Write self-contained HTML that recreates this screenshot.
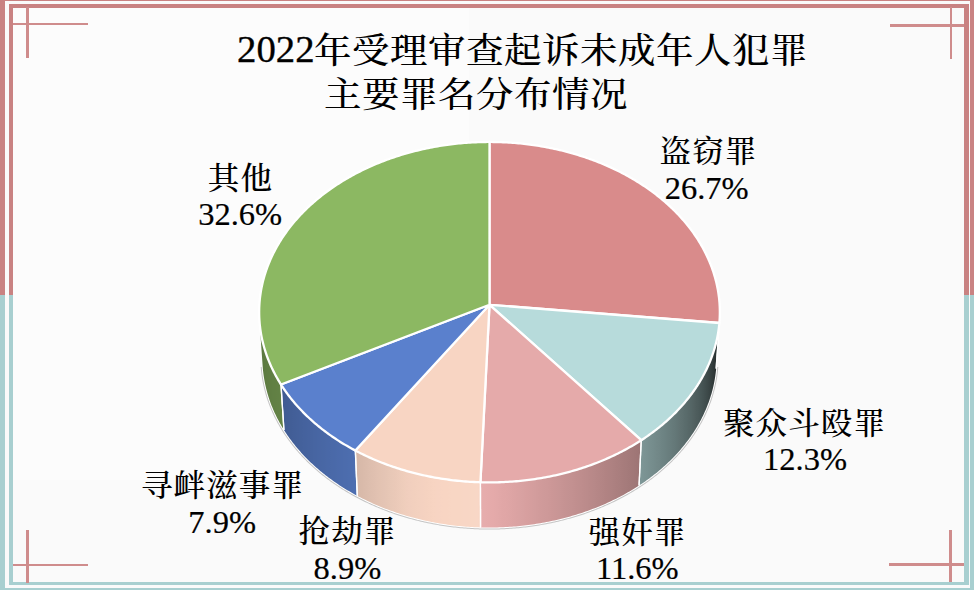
<!DOCTYPE html>
<html><head><meta charset="utf-8">
<style>
html,body{margin:0;padding:0;}
body{width:974px;height:590px;overflow:hidden;position:relative;background:#fafafa;}
.b{position:absolute;}
.pk{background:#c98282;}
.tl{background:#a8cfd0;}
.ch{position:absolute;background:#cf8c8c;}
.t{position:absolute;white-space:nowrap;color:#000;font-family:"Liberation Serif","Noto Serif CJK SC",serif;line-height:1;}
.cj{font-weight:500;}
.num{font-family:"Liberation Serif",serif;font-weight:400;-webkit-text-stroke:0.35px #000;}
.l1{position:absolute;white-space:nowrap;color:#000;font-family:"Liberation Serif","Noto Serif CJK SC",serif;font-weight:500;font-size:31px;letter-spacing:1px;line-height:1;transform:translateX(-50%) scaleX(1.02);padding-left:1px;}
.l2{position:absolute;white-space:nowrap;color:#000;font-family:"Liberation Serif",serif;font-size:32.5px;line-height:1;transform:translateX(-50%);-webkit-text-stroke:0.2px #000;}
</style></head><body>
<div style="position:absolute;left:13px;top:8px;width:456px;height:472px;background:#fcfcfc"></div>
<!-- outer bands -->
<div class="b pk" style="left:0;top:0;width:974px;height:1px"></div>
<div class="b pk" style="left:0;top:0;width:5px;height:295px"></div>
<div class="b tl" style="left:0;top:295px;width:5px;height:295px"></div>
<div class="b pk" style="left:970px;top:0;width:4px;height:295px"></div>
<div class="b tl" style="left:970px;top:295px;width:4px;height:295px"></div>
<div class="b tl" style="left:0;top:588px;width:974px;height:2px"></div>
<!-- inner bands -->
<div class="b pk" style="left:8.5px;top:3.5px;width:960px;height:4px"></div>
<div class="b pk" style="left:8.5px;top:3.5px;width:4.5px;height:291.5px"></div>
<div class="b tl" style="left:8.5px;top:295px;width:4.5px;height:290px"></div>
<div class="b pk" style="left:964px;top:3.5px;width:4.5px;height:291.5px"></div>
<div class="b tl" style="left:964px;top:295px;width:4.5px;height:290px"></div>
<div class="b tl" style="left:8.5px;top:582.3px;width:960px;height:2.7px"></div>
<!-- corner crosshairs -->
<div class="ch" style="left:26.2px;top:7px;width:2.5px;height:51px"></div>
<div class="ch" style="left:13px;top:22.6px;width:75px;height:2.5px"></div>
<div class="ch" style="left:949.6px;top:7px;width:2.5px;height:52px"></div>
<div class="ch" style="left:890px;top:24px;width:74px;height:2.5px"></div>
<div class="ch" style="left:26.2px;top:530px;width:2.5px;height:53px"></div>
<div class="ch" style="left:13px;top:563.8px;width:75px;height:2.5px"></div>
<div class="ch" style="left:949.2px;top:529.6px;width:2.5px;height:52.5px"></div>
<div class="ch" style="left:889px;top:563px;width:75px;height:2.5px"></div>
<svg width="974" height="590" viewBox="0 0 974 590" style="position:absolute;left:0;top:0">
<defs><linearGradient id="g0" gradientUnits="userSpaceOnUse" x1="719.37" y1="0" x2="719.52" y2="0"><stop offset="0.0000" stop-color="#1a1111"/><stop offset="0.2675" stop-color="#1a1111"/><stop offset="0.5234" stop-color="#1a1111"/><stop offset="0.7675" stop-color="#1a1111"/><stop offset="1.0000" stop-color="#1a1010"/><stop offset="1.0000" stop-color="#1a1010"/></linearGradient><linearGradient id="g1" gradientUnits="userSpaceOnUse" x1="641.25" y1="0" x2="719.37" y2="0"><stop offset="0.0000" stop-color="#7d9696"/><stop offset="0.0399" stop-color="#7b9393"/><stop offset="0.0792" stop-color="#799191"/><stop offset="0.1178" stop-color="#778e8e"/><stop offset="0.1557" stop-color="#758c8c"/><stop offset="0.1928" stop-color="#738989"/><stop offset="0.2293" stop-color="#718787"/><stop offset="0.2650" stop-color="#6e8484"/><stop offset="0.3000" stop-color="#6c8282"/><stop offset="0.3342" stop-color="#6a7f7f"/><stop offset="0.3677" stop-color="#687d7d"/><stop offset="0.4004" stop-color="#667a7a"/><stop offset="0.4323" stop-color="#647878"/><stop offset="0.4634" stop-color="#627575"/><stop offset="0.4937" stop-color="#607272"/><stop offset="0.5232" stop-color="#5e7070"/><stop offset="0.5519" stop-color="#5b6d6d"/><stop offset="0.5798" stop-color="#596b6b"/><stop offset="0.6068" stop-color="#576868"/><stop offset="0.6330" stop-color="#556666"/><stop offset="0.6583" stop-color="#536363"/><stop offset="0.6828" stop-color="#516060"/><stop offset="0.7064" stop-color="#4e5d5d"/><stop offset="0.7292" stop-color="#4c5b5b"/><stop offset="0.7511" stop-color="#495858"/><stop offset="0.7721" stop-color="#475555"/><stop offset="0.7922" stop-color="#445252"/><stop offset="0.8115" stop-color="#424f4f"/><stop offset="0.8298" stop-color="#3f4c4c"/><stop offset="0.8473" stop-color="#3d4949"/><stop offset="0.8639" stop-color="#3a4646"/><stop offset="0.8795" stop-color="#384343"/><stop offset="0.8943" stop-color="#364040"/><stop offset="0.9081" stop-color="#333d3d"/><stop offset="0.9210" stop-color="#313a3a"/><stop offset="0.9331" stop-color="#2e3737"/><stop offset="0.9442" stop-color="#2c3434"/><stop offset="0.9544" stop-color="#293131"/><stop offset="0.9636" stop-color="#262e2e"/><stop offset="0.9720" stop-color="#242b2b"/><stop offset="0.9794" stop-color="#212727"/><stop offset="0.9860" stop-color="#1e2424"/><stop offset="0.9916" stop-color="#1c2121"/><stop offset="0.9962" stop-color="#191e1e"/><stop offset="1.0000" stop-color="#161b1b"/><stop offset="1.0000" stop-color="#161b1b"/></linearGradient><linearGradient id="g2" gradientUnits="userSpaceOnUse" x1="480.43" y1="0" x2="641.25" y2="0"><stop offset="0.0000" stop-color="#e6adad"/><stop offset="0.0263" stop-color="#e6acac"/><stop offset="0.0525" stop-color="#e5abab"/><stop offset="0.0788" stop-color="#e5aaaa"/><stop offset="0.1051" stop-color="#e3a9a9"/><stop offset="0.1313" stop-color="#e1a7a7"/><stop offset="0.1575" stop-color="#e0a6a6"/><stop offset="0.1837" stop-color="#dea5a5"/><stop offset="0.2098" stop-color="#dca3a3"/><stop offset="0.2359" stop-color="#daa2a2"/><stop offset="0.2619" stop-color="#d8a1a1"/><stop offset="0.2879" stop-color="#d79f9f"/><stop offset="0.3138" stop-color="#d59e9e"/><stop offset="0.3395" stop-color="#d39d9d"/><stop offset="0.3652" stop-color="#d19b9b"/><stop offset="0.3908" stop-color="#cf9a9a"/><stop offset="0.4162" stop-color="#ce9999"/><stop offset="0.4416" stop-color="#cc9797"/><stop offset="0.4668" stop-color="#ca9696"/><stop offset="0.4918" stop-color="#c89595"/><stop offset="0.5167" stop-color="#c69393"/><stop offset="0.5415" stop-color="#c49292"/><stop offset="0.5660" stop-color="#c39191"/><stop offset="0.5904" stop-color="#c18f8f"/><stop offset="0.6146" stop-color="#bf8e8e"/><stop offset="0.6386" stop-color="#bd8c8c"/><stop offset="0.6625" stop-color="#bb8b8b"/><stop offset="0.6861" stop-color="#b98989"/><stop offset="0.7094" stop-color="#b78888"/><stop offset="0.7326" stop-color="#b58686"/><stop offset="0.7555" stop-color="#b38585"/><stop offset="0.7782" stop-color="#b18383"/><stop offset="0.8006" stop-color="#af8282"/><stop offset="0.8228" stop-color="#ad8181"/><stop offset="0.8447" stop-color="#ab7f7f"/><stop offset="0.8664" stop-color="#a97e7e"/><stop offset="0.8877" stop-color="#a77c7c"/><stop offset="0.9088" stop-color="#a57b7b"/><stop offset="0.9296" stop-color="#a37979"/><stop offset="0.9501" stop-color="#a17878"/><stop offset="0.9703" stop-color="#9f7676"/><stop offset="0.9902" stop-color="#9d7575"/><stop offset="1.0000" stop-color="#9c7474"/></linearGradient><linearGradient id="g3" gradientUnits="userSpaceOnUse" x1="355.34" y1="0" x2="480.43" y2="0"><stop offset="0.0000" stop-color="#d5b7a7"/><stop offset="0.0273" stop-color="#d7b9a9"/><stop offset="0.0549" stop-color="#d9baaa"/><stop offset="0.0829" stop-color="#dbbcac"/><stop offset="0.1112" stop-color="#ddbeae"/><stop offset="0.1399" stop-color="#dfbfaf"/><stop offset="0.1688" stop-color="#e1c1b1"/><stop offset="0.1981" stop-color="#e3c3b2"/><stop offset="0.2277" stop-color="#e4c4b4"/><stop offset="0.2576" stop-color="#e6c6b5"/><stop offset="0.2877" stop-color="#e8c8b7"/><stop offset="0.3181" stop-color="#eac9b8"/><stop offset="0.3488" stop-color="#eccbba"/><stop offset="0.3797" stop-color="#eecdbb"/><stop offset="0.4109" stop-color="#f0cebd"/><stop offset="0.4423" stop-color="#f1cfbe"/><stop offset="0.4739" stop-color="#f2d0be"/><stop offset="0.5057" stop-color="#f3d1bf"/><stop offset="0.5377" stop-color="#f4d1c0"/><stop offset="0.5699" stop-color="#f5d2c0"/><stop offset="0.6022" stop-color="#f6d3c1"/><stop offset="0.6347" stop-color="#f7d4c2"/><stop offset="0.6674" stop-color="#f7d4c3"/><stop offset="0.7002" stop-color="#f8d5c3"/><stop offset="0.7332" stop-color="#f8d5c3"/><stop offset="0.7662" stop-color="#f8d6c4"/><stop offset="0.7994" stop-color="#f8d6c4"/><stop offset="0.8327" stop-color="#f8d6c4"/><stop offset="0.8660" stop-color="#f8d6c5"/><stop offset="0.8994" stop-color="#f8d6c5"/><stop offset="0.9329" stop-color="#f8d7c5"/><stop offset="0.9664" stop-color="#f8d7c6"/><stop offset="1.0000" stop-color="#f8d6c5"/><stop offset="1.0000" stop-color="#f8d6c5"/></linearGradient><linearGradient id="g4" gradientUnits="userSpaceOnUse" x1="280.97" y1="0" x2="355.34" y2="0"><stop offset="0.0000" stop-color="#405b91"/><stop offset="0.0120" stop-color="#405b91"/><stop offset="0.0242" stop-color="#405b92"/><stop offset="0.0367" stop-color="#405b93"/><stop offset="0.0494" stop-color="#415c93"/><stop offset="0.0623" stop-color="#415c94"/><stop offset="0.0755" stop-color="#415d94"/><stop offset="0.0889" stop-color="#415d95"/><stop offset="0.1025" stop-color="#425d95"/><stop offset="0.1163" stop-color="#425e96"/><stop offset="0.1304" stop-color="#425e96"/><stop offset="0.1446" stop-color="#425e97"/><stop offset="0.1592" stop-color="#435f98"/><stop offset="0.1739" stop-color="#435f98"/><stop offset="0.1888" stop-color="#435f99"/><stop offset="0.2040" stop-color="#436099"/><stop offset="0.2194" stop-color="#44609a"/><stop offset="0.2350" stop-color="#44609a"/><stop offset="0.2508" stop-color="#44619b"/><stop offset="0.2669" stop-color="#44619b"/><stop offset="0.2831" stop-color="#44619c"/><stop offset="0.2996" stop-color="#45629d"/><stop offset="0.3163" stop-color="#45629d"/><stop offset="0.3332" stop-color="#45629e"/><stop offset="0.3503" stop-color="#45639e"/><stop offset="0.3676" stop-color="#46639f"/><stop offset="0.3851" stop-color="#46639f"/><stop offset="0.4029" stop-color="#4664a0"/><stop offset="0.4208" stop-color="#4664a0"/><stop offset="0.4389" stop-color="#4765a1"/><stop offset="0.4573" stop-color="#4765a2"/><stop offset="0.4758" stop-color="#4765a2"/><stop offset="0.4945" stop-color="#4766a3"/><stop offset="0.5135" stop-color="#4866a3"/><stop offset="0.5326" stop-color="#4866a4"/><stop offset="0.5519" stop-color="#4867a4"/><stop offset="0.5715" stop-color="#4867a5"/><stop offset="0.5912" stop-color="#4967a5"/><stop offset="0.6111" stop-color="#4968a6"/><stop offset="0.6312" stop-color="#4968a7"/><stop offset="0.6515" stop-color="#4968a7"/><stop offset="0.6719" stop-color="#4a69a8"/><stop offset="0.6926" stop-color="#4a69a8"/><stop offset="0.7134" stop-color="#4a69a9"/><stop offset="0.7344" stop-color="#4a6aa9"/><stop offset="0.7556" stop-color="#4b6aaa"/><stop offset="0.7770" stop-color="#4b6aab"/><stop offset="0.7985" stop-color="#4b6bab"/><stop offset="0.8202" stop-color="#4b6bac"/><stop offset="0.8421" stop-color="#4c6cac"/><stop offset="0.8642" stop-color="#4c6cad"/><stop offset="0.8864" stop-color="#4c6cad"/><stop offset="0.9088" stop-color="#4c6dae"/><stop offset="0.9314" stop-color="#4d6dae"/><stop offset="0.9541" stop-color="#4d6daf"/><stop offset="0.9770" stop-color="#4d6eb0"/><stop offset="1.0000" stop-color="#4d6eb0"/><stop offset="1.0000" stop-color="#4d6eb0"/></linearGradient><linearGradient id="g5" gradientUnits="userSpaceOnUse" x1="259.48" y1="0" x2="280.97" y2="0"><stop offset="0.0000" stop-color="#59753e"/><stop offset="0.0055" stop-color="#5a763f"/><stop offset="0.0118" stop-color="#5a763f"/><stop offset="0.0189" stop-color="#5a763f"/><stop offset="0.0269" stop-color="#5a773f"/><stop offset="0.0358" stop-color="#5a773f"/><stop offset="0.0455" stop-color="#5b773f"/><stop offset="0.0561" stop-color="#5b7740"/><stop offset="0.0675" stop-color="#5b7840"/><stop offset="0.0798" stop-color="#5b7840"/><stop offset="0.0929" stop-color="#5c7840"/><stop offset="0.1069" stop-color="#5c7940"/><stop offset="0.1217" stop-color="#5c7940"/><stop offset="0.1374" stop-color="#5c7941"/><stop offset="0.1539" stop-color="#5c7a41"/><stop offset="0.1713" stop-color="#5d7a41"/><stop offset="0.1896" stop-color="#5d7a41"/><stop offset="0.2086" stop-color="#5d7a41"/><stop offset="0.2286" stop-color="#5d7b41"/><stop offset="0.2494" stop-color="#5e7b42"/><stop offset="0.2710" stop-color="#5e7b42"/><stop offset="0.2935" stop-color="#5e7c42"/><stop offset="0.3168" stop-color="#5e7c42"/><stop offset="0.3410" stop-color="#5f7c42"/><stop offset="0.3660" stop-color="#5f7d42"/><stop offset="0.3919" stop-color="#5f7d42"/><stop offset="0.4186" stop-color="#5f7d43"/><stop offset="0.4461" stop-color="#5f7d43"/><stop offset="0.4745" stop-color="#607e43"/><stop offset="0.5037" stop-color="#607e43"/><stop offset="0.5338" stop-color="#607e43"/><stop offset="0.5647" stop-color="#607f43"/><stop offset="0.5964" stop-color="#617f44"/><stop offset="0.6290" stop-color="#617f44"/><stop offset="0.6624" stop-color="#618044"/><stop offset="0.6966" stop-color="#618044"/><stop offset="0.7317" stop-color="#628044"/><stop offset="0.7676" stop-color="#628044"/><stop offset="0.8042" stop-color="#628145"/><stop offset="0.8418" stop-color="#628145"/><stop offset="0.8801" stop-color="#628145"/><stop offset="0.9193" stop-color="#638245"/><stop offset="0.9592" stop-color="#638245"/><stop offset="1.0000" stop-color="#638245"/><stop offset="1.0000" stop-color="#638245"/></linearGradient></defs>
<path d="M716.29,366.79 L716.20,368.05 L716.09,369.31 L715.97,370.57 L715.84,371.82 L715.69,373.08 L715.53,374.33 L715.36,375.59 L715.18,376.84 L714.98,378.10 L714.77,379.35 L714.55,380.60 L714.32,381.86 L714.07,383.11 L713.81,384.36 L713.54,385.60 L713.25,386.85 L712.96,388.10 L712.65,389.34 L712.33,390.59 L711.99,391.83 L711.65,393.07 L711.29,394.31 L710.92,395.55 L710.53,396.78 L710.14,398.01 L709.73,399.25 L709.31,400.48 L708.87,401.70 L708.43,402.93 L707.97,404.15 L707.50,405.38 L707.01,406.59 L706.52,407.81 L706.01,409.03 L705.49,410.24 L704.96,411.45 L704.41,412.65 L703.85,413.86 L703.28,415.06 L702.70,416.26 L702.11,417.45 L701.50,418.64 L700.89,419.83 L700.25,421.02 L699.61,422.20 L698.96,423.38 L698.29,424.56 L697.61,425.73 L696.92,426.90 L696.22,428.06 L695.51,429.23 L694.78,430.38 L694.04,431.54 L693.29,432.69 L692.53,433.84 L691.76,434.98 L690.97,436.12 L690.17,437.25 L689.37,438.38 L688.55,439.51 L687.71,440.63 L686.87,441.75 L686.02,442.86 L685.15,443.97 L684.27,445.07 L683.38,446.17 L682.48,447.26 L681.57,448.35 L680.65,449.44 L679.71,450.52 L678.77,451.59 L677.81,452.66 L676.84,453.72 L675.87,454.78 L674.88,455.83 L673.88,456.88 L672.87,457.93 L671.84,458.96 L670.81,459.99 L669.77,461.02 L668.71,462.04 L667.65,463.05 L666.57,464.06 L665.49,465.07 L664.39,466.06 L663.28,467.05 L662.17,468.04 L661.04,469.02 L659.90,469.99 L658.76,470.96 L657.60,471.92 L656.43,472.87 L655.25,473.82 L654.07,474.76 L652.87,475.69 L651.66,476.62 L650.45,477.54 L649.22,478.45 L647.98,479.36 L646.74,480.26 L645.48,481.15 L644.22,482.04 L642.95,482.92 L641.66,483.79 L640.37,484.65 L639.07,485.51 L637.76,486.36 L636.44,487.20 L635.11,488.04 L633.78,488.87 L632.43,489.69 L631.08,490.50 L629.72,491.31 L628.35,492.11 L626.97,492.90 L625.58,493.68 L624.18,494.45 L622.78,495.22 L621.37,495.98 L619.95,496.73 L618.52,497.47 L617.09,498.21 L615.64,498.93 L614.19,499.65 L612.73,500.36 L611.27,501.06 L609.79,501.76 L608.31,502.44 L606.83,503.12 L605.33,503.79 L603.83,504.45 L602.32,505.10 L600.80,505.74 L599.28,506.38 L597.75,507.00 L596.21,507.62 L594.67,508.23 L593.12,508.83 L591.57,509.42 L590.01,510.00 L588.44,510.57 L586.86,511.14 L585.28,511.69 L583.70,512.24 L582.11,512.77 L580.51,513.30 L578.91,513.82 L577.30,514.33 L575.69,514.83 L574.07,515.32 L572.44,515.80 L570.81,516.27 L569.18,516.74 L567.54,517.19 L565.90,517.64 L564.25,518.07 L562.59,518.50 L560.94,518.91 L559.27,519.32 L557.61,519.71 L555.94,520.10 L554.26,520.48 L552.58,520.85 L550.90,521.21 L549.22,521.56 L547.53,521.89 L545.83,522.22 L544.13,522.54 L542.43,522.85 L540.73,523.15 L539.02,523.44 L537.31,523.72 L535.60,523.99 L533.88,524.26 L532.17,524.51 L530.44,524.75 L528.72,524.98 L527.00,525.20 L525.27,525.41 L523.54,525.61 L521.80,525.80 L520.07,525.98 L518.33,526.16 L516.59,526.32 L514.85,526.47 L513.11,526.61 L511.37,526.74 L509.62,526.86 L507.88,526.97 L506.13,527.07 L504.38,527.16 L502.63,527.24 L500.89,527.32 L499.13,527.38 L497.38,527.43 L495.63,527.47 L493.88,527.50 L492.13,527.52 L490.38,527.53 L488.62,527.53 L486.87,527.52 L485.12,527.50 L483.37,527.47 L481.62,527.43 L479.87,527.38 L478.11,527.32 L476.37,527.24 L474.62,527.16 L472.87,527.07 L471.12,526.97 L469.38,526.86 L467.63,526.74 L465.89,526.61 L464.15,526.47 L462.41,526.32 L460.67,526.16 L458.93,525.98 L457.20,525.80 L455.46,525.61 L453.73,525.41 L452.00,525.20 L450.28,524.98 L448.56,524.75 L446.83,524.51 L445.12,524.26 L443.40,523.99 L441.69,523.72 L439.98,523.44 L438.27,523.15 L436.57,522.85 L434.87,522.54 L433.17,522.22 L431.47,521.89 L429.78,521.56 L428.10,521.21 L426.42,520.85 L424.74,520.48 L423.06,520.10 L421.39,519.71 L419.73,519.32 L418.06,518.91 L416.41,518.50 L414.75,518.07 L413.10,517.64 L411.46,517.19 L409.82,516.74 L408.19,516.27 L406.56,515.80 L404.93,515.32 L403.31,514.83 L401.70,514.33 L400.09,513.82 L398.49,513.30 L396.89,512.77 L395.30,512.24 L393.72,511.69 L392.14,511.14 L390.56,510.57 L388.99,510.00 L387.43,509.42 L385.88,508.83 L384.33,508.23 L382.79,507.62 L381.25,507.00 L379.72,506.38 L378.20,505.74 L376.68,505.10 L375.17,504.45 L373.67,503.79 L372.17,503.12 L370.69,502.44 L369.21,501.76 L367.73,501.06 L366.27,500.36 L364.81,499.65 L363.36,498.93 L361.91,498.21 L360.48,497.47 L359.05,496.73 L357.63,495.98 L356.22,495.22 L354.82,494.45 L353.42,493.68 L352.03,492.90 L350.65,492.11 L349.28,491.31 L347.92,490.50 L346.57,489.69 L345.22,488.87 L343.89,488.04 L342.56,487.20 L341.24,486.36 L339.93,485.51 L338.63,484.65 L337.34,483.79 L336.05,482.92 L334.78,482.04 L333.52,481.15 L332.26,480.26 L331.02,479.36 L329.78,478.45 L328.55,477.54 L327.34,476.62 L326.13,475.69 L324.93,474.76 L323.75,473.82 L322.57,472.87 L321.40,471.92 L320.24,470.96 L319.10,469.99 L317.96,469.02 L316.83,468.04 L315.72,467.05 L314.61,466.06 L313.51,465.07 L312.43,464.06 L311.35,463.05 L310.29,462.04 L309.23,461.02 L308.19,459.99 L307.16,458.96 L306.13,457.93 L305.12,456.88 L304.12,455.83 L303.13,454.78 L302.16,453.72 L301.19,452.66 L300.23,451.59 L299.29,450.52 L298.35,449.44 L297.43,448.35 L296.52,447.26 L295.62,446.17 L294.73,445.07 L293.85,443.97 L292.98,442.86 L292.13,441.75 L291.29,440.63 L290.45,439.51 L289.63,438.38 L288.83,437.25 L288.03,436.12 L287.24,434.98 L286.47,433.84 L285.71,432.69 L284.96,431.54 L284.22,430.38 L283.49,429.23 L282.78,428.06 L282.08,426.90 L281.39,425.73 L280.71,424.56 L280.04,423.38 L279.39,422.20 L278.75,421.02 L278.11,419.83 L277.50,418.64 L276.89,417.45 L276.30,416.26 L275.72,415.06 L275.15,413.86 L274.59,412.65 L274.04,411.45 L273.51,410.24 L272.99,409.03 L272.48,407.81 L271.99,406.59 L271.50,405.38 L271.03,404.15 L270.57,402.93 L270.13,401.70 L269.69,400.48 L269.27,399.25 L268.86,398.01 L268.47,396.78 L268.08,395.55 L267.71,394.31 L267.35,393.07 L267.01,391.83 L266.67,390.59 L266.35,389.34 L266.04,388.10 L265.75,386.85 L265.46,385.60 L265.19,384.36 L264.93,383.11 L264.68,381.86 L264.45,380.60 L264.23,379.35 L264.02,378.10 L263.82,376.84 L263.64,375.59 L263.47,374.33 L263.31,373.08 L263.16,371.82 L263.03,370.57 L262.91,369.31 L262.80,368.05 L262.71,366.79" fill="none" stroke="#c4c4c4" stroke-width="4" stroke-linejoin="round"/>
<path d="M716.29,366.79 L716.20,368.05 L716.09,369.31 L715.97,370.57 L715.84,371.82 L715.69,373.08 L715.53,374.33 L715.36,375.59 L715.18,376.84 L714.98,378.10 L714.77,379.35 L714.55,380.60 L714.32,381.86 L714.07,383.11 L713.81,384.36 L713.54,385.60 L713.25,386.85 L712.96,388.10 L712.65,389.34 L712.33,390.59 L711.99,391.83 L711.65,393.07 L711.29,394.31 L710.92,395.55 L710.53,396.78 L710.14,398.01 L709.73,399.25 L709.31,400.48 L708.87,401.70 L708.43,402.93 L707.97,404.15 L707.50,405.38 L707.01,406.59 L706.52,407.81 L706.01,409.03 L705.49,410.24 L704.96,411.45 L704.41,412.65 L703.85,413.86 L703.28,415.06 L702.70,416.26 L702.11,417.45 L701.50,418.64 L700.89,419.83 L700.25,421.02 L699.61,422.20 L698.96,423.38 L698.29,424.56 L697.61,425.73 L696.92,426.90 L696.22,428.06 L695.51,429.23 L694.78,430.38 L694.04,431.54 L693.29,432.69 L692.53,433.84 L691.76,434.98 L690.97,436.12 L690.17,437.25 L689.37,438.38 L688.55,439.51 L687.71,440.63 L686.87,441.75 L686.02,442.86 L685.15,443.97 L684.27,445.07 L683.38,446.17 L682.48,447.26 L681.57,448.35 L680.65,449.44 L679.71,450.52 L678.77,451.59 L677.81,452.66 L676.84,453.72 L675.87,454.78 L674.88,455.83 L673.88,456.88 L672.87,457.93 L671.84,458.96 L670.81,459.99 L669.77,461.02 L668.71,462.04 L667.65,463.05 L666.57,464.06 L665.49,465.07 L664.39,466.06 L663.28,467.05 L662.17,468.04 L661.04,469.02 L659.90,469.99 L658.76,470.96 L657.60,471.92 L656.43,472.87 L655.25,473.82 L654.07,474.76 L652.87,475.69 L651.66,476.62 L650.45,477.54 L649.22,478.45 L647.98,479.36 L646.74,480.26 L645.48,481.15 L644.22,482.04 L642.95,482.92 L641.66,483.79 L640.37,484.65 L639.07,485.51 L637.76,486.36 L636.44,487.20 L635.11,488.04 L633.78,488.87 L632.43,489.69 L631.08,490.50 L629.72,491.31 L628.35,492.11 L626.97,492.90 L625.58,493.68 L624.18,494.45 L622.78,495.22 L621.37,495.98 L619.95,496.73 L618.52,497.47 L617.09,498.21 L615.64,498.93 L614.19,499.65 L612.73,500.36 L611.27,501.06 L609.79,501.76 L608.31,502.44 L606.83,503.12 L605.33,503.79 L603.83,504.45 L602.32,505.10 L600.80,505.74 L599.28,506.38 L597.75,507.00 L596.21,507.62 L594.67,508.23 L593.12,508.83 L591.57,509.42 L590.01,510.00 L588.44,510.57 L586.86,511.14 L585.28,511.69 L583.70,512.24 L582.11,512.77 L580.51,513.30 L578.91,513.82 L577.30,514.33 L575.69,514.83 L574.07,515.32 L572.44,515.80 L570.81,516.27 L569.18,516.74 L567.54,517.19 L565.90,517.64 L564.25,518.07 L562.59,518.50 L560.94,518.91 L559.27,519.32 L557.61,519.71 L555.94,520.10 L554.26,520.48 L552.58,520.85 L550.90,521.21 L549.22,521.56 L547.53,521.89 L545.83,522.22 L544.13,522.54 L542.43,522.85 L540.73,523.15 L539.02,523.44 L537.31,523.72 L535.60,523.99 L533.88,524.26 L532.17,524.51 L530.44,524.75 L528.72,524.98 L527.00,525.20 L525.27,525.41 L523.54,525.61 L521.80,525.80 L520.07,525.98 L518.33,526.16 L516.59,526.32 L514.85,526.47 L513.11,526.61 L511.37,526.74 L509.62,526.86 L507.88,526.97 L506.13,527.07 L504.38,527.16 L502.63,527.24 L500.89,527.32 L499.13,527.38 L497.38,527.43 L495.63,527.47 L493.88,527.50 L492.13,527.52 L490.38,527.53 L488.62,527.53 L486.87,527.52 L485.12,527.50 L483.37,527.47 L481.62,527.43 L479.87,527.38 L478.11,527.32 L476.37,527.24 L474.62,527.16 L472.87,527.07 L471.12,526.97 L469.38,526.86 L467.63,526.74 L465.89,526.61 L464.15,526.47 L462.41,526.32 L460.67,526.16 L458.93,525.98 L457.20,525.80 L455.46,525.61 L453.73,525.41 L452.00,525.20 L450.28,524.98 L448.56,524.75 L446.83,524.51 L445.12,524.26 L443.40,523.99 L441.69,523.72 L439.98,523.44 L438.27,523.15 L436.57,522.85 L434.87,522.54 L433.17,522.22 L431.47,521.89 L429.78,521.56 L428.10,521.21 L426.42,520.85 L424.74,520.48 L423.06,520.10 L421.39,519.71 L419.73,519.32 L418.06,518.91 L416.41,518.50 L414.75,518.07 L413.10,517.64 L411.46,517.19 L409.82,516.74 L408.19,516.27 L406.56,515.80 L404.93,515.32 L403.31,514.83 L401.70,514.33 L400.09,513.82 L398.49,513.30 L396.89,512.77 L395.30,512.24 L393.72,511.69 L392.14,511.14 L390.56,510.57 L388.99,510.00 L387.43,509.42 L385.88,508.83 L384.33,508.23 L382.79,507.62 L381.25,507.00 L379.72,506.38 L378.20,505.74 L376.68,505.10 L375.17,504.45 L373.67,503.79 L372.17,503.12 L370.69,502.44 L369.21,501.76 L367.73,501.06 L366.27,500.36 L364.81,499.65 L363.36,498.93 L361.91,498.21 L360.48,497.47 L359.05,496.73 L357.63,495.98 L356.22,495.22 L354.82,494.45 L353.42,493.68 L352.03,492.90 L350.65,492.11 L349.28,491.31 L347.92,490.50 L346.57,489.69 L345.22,488.87 L343.89,488.04 L342.56,487.20 L341.24,486.36 L339.93,485.51 L338.63,484.65 L337.34,483.79 L336.05,482.92 L334.78,482.04 L333.52,481.15 L332.26,480.26 L331.02,479.36 L329.78,478.45 L328.55,477.54 L327.34,476.62 L326.13,475.69 L324.93,474.76 L323.75,473.82 L322.57,472.87 L321.40,471.92 L320.24,470.96 L319.10,469.99 L317.96,469.02 L316.83,468.04 L315.72,467.05 L314.61,466.06 L313.51,465.07 L312.43,464.06 L311.35,463.05 L310.29,462.04 L309.23,461.02 L308.19,459.99 L307.16,458.96 L306.13,457.93 L305.12,456.88 L304.12,455.83 L303.13,454.78 L302.16,453.72 L301.19,452.66 L300.23,451.59 L299.29,450.52 L298.35,449.44 L297.43,448.35 L296.52,447.26 L295.62,446.17 L294.73,445.07 L293.85,443.97 L292.98,442.86 L292.13,441.75 L291.29,440.63 L290.45,439.51 L289.63,438.38 L288.83,437.25 L288.03,436.12 L287.24,434.98 L286.47,433.84 L285.71,432.69 L284.96,431.54 L284.22,430.38 L283.49,429.23 L282.78,428.06 L282.08,426.90 L281.39,425.73 L280.71,424.56 L280.04,423.38 L279.39,422.20 L278.75,421.02 L278.11,419.83 L277.50,418.64 L276.89,417.45 L276.30,416.26 L275.72,415.06 L275.15,413.86 L274.59,412.65 L274.04,411.45 L273.51,410.24 L272.99,409.03 L272.48,407.81 L271.99,406.59 L271.50,405.38 L271.03,404.15 L270.57,402.93 L270.13,401.70 L269.69,400.48 L269.27,399.25 L268.86,398.01 L268.47,396.78 L268.08,395.55 L267.71,394.31 L267.35,393.07 L267.01,391.83 L266.67,390.59 L266.35,389.34 L266.04,388.10 L265.75,386.85 L265.46,385.60 L265.19,384.36 L264.93,383.11 L264.68,381.86 L264.45,380.60 L264.23,379.35 L264.02,378.10 L263.82,376.84 L263.64,375.59 L263.47,374.33 L263.31,373.08 L263.16,371.82 L263.03,370.57 L262.91,369.31 L262.80,368.05 L262.71,366.79" fill="none" stroke="#ffffff" stroke-width="2" stroke-linejoin="round" stroke-linecap="round"/>
<path d="M719.52,321.15 L719.49,321.61 L719.45,322.07 L719.41,322.54 L719.37,323.00 L716.15,368.64 L716.19,368.17 L716.23,367.71 L716.26,367.25 L716.29,366.79 Z" fill="url(#g0)"/>
<path d="M719.37,323.00 L719.24,324.49 L719.08,325.99 L718.91,327.49 L718.71,328.98 L718.50,330.48 L718.28,331.97 L718.03,333.47 L717.77,334.96 L717.49,336.45 L717.19,337.94 L716.87,339.43 L716.53,340.91 L716.18,342.40 L715.81,343.88 L715.42,345.36 L715.01,346.84 L714.59,348.32 L714.15,349.79 L713.68,351.26 L713.21,352.73 L712.71,354.20 L712.20,355.66 L711.66,357.13 L711.11,358.58 L710.55,360.04 L709.96,361.49 L709.36,362.94 L708.74,364.38 L708.10,365.82 L707.44,367.26 L706.77,368.70 L706.08,370.13 L705.37,371.55 L704.65,372.97 L703.90,374.39 L703.14,375.80 L702.37,377.21 L701.57,378.61 L700.76,380.01 L699.93,381.41 L699.08,382.79 L698.22,384.18 L697.34,385.56 L696.44,386.93 L695.53,388.30 L694.59,389.66 L693.65,391.01 L692.68,392.36 L691.70,393.71 L690.70,395.04 L689.69,396.38 L688.66,397.70 L687.61,399.02 L686.54,400.33 L685.46,401.64 L684.37,402.94 L683.25,404.23 L682.13,405.51 L680.98,406.79 L679.82,408.06 L678.64,409.32 L677.45,410.58 L676.24,411.83 L675.02,413.07 L673.78,414.30 L672.53,415.52 L671.26,416.74 L669.98,417.95 L668.68,419.15 L667.36,420.34 L666.03,421.52 L664.69,422.69 L663.33,423.86 L661.96,425.02 L660.57,426.16 L659.16,427.30 L657.75,428.43 L656.32,429.55 L654.87,430.67 L653.41,431.77 L651.94,432.86 L650.45,433.94 L648.95,435.02 L647.44,436.08 L645.91,437.13 L644.37,438.18 L642.82,439.21 L641.25,440.23 L639.06,485.52 L640.61,484.50 L642.14,483.47 L643.66,482.43 L645.16,481.38 L646.65,480.32 L648.13,479.25 L649.60,478.17 L651.05,477.08 L652.49,475.98 L653.92,474.87 L655.33,473.76 L656.72,472.63 L658.11,471.50 L659.47,470.35 L660.83,469.20 L662.17,468.04 L663.49,466.87 L664.81,465.69 L666.10,464.50 L667.38,463.30 L668.65,462.10 L669.90,460.89 L671.14,459.67 L672.36,458.44 L673.57,457.20 L674.76,455.96 L675.93,454.71 L677.09,453.45 L678.24,452.18 L679.37,450.91 L680.48,449.63 L681.58,448.34 L682.66,447.05 L683.73,445.75 L684.78,444.44 L685.81,443.12 L686.83,441.80 L687.83,440.48 L688.81,439.14 L689.78,437.80 L690.73,436.46 L691.67,435.11 L692.59,433.75 L693.49,432.39 L694.38,431.02 L695.25,429.64 L696.10,428.26 L696.93,426.88 L697.75,425.49 L698.55,424.10 L699.34,422.70 L700.11,421.29 L700.86,419.88 L701.59,418.47 L702.31,417.05 L703.01,415.63 L703.69,414.21 L704.35,412.78 L705.00,411.34 L705.63,409.91 L706.24,408.47 L706.84,407.02 L707.42,405.57 L707.98,404.12 L708.52,402.67 L709.05,401.21 L709.56,399.75 L710.05,398.29 L710.52,396.82 L710.97,395.36 L711.41,393.89 L711.83,392.41 L712.23,390.94 L712.62,389.46 L712.99,387.98 L713.34,386.50 L713.67,385.02 L713.98,383.54 L714.28,382.05 L714.56,380.56 L714.82,379.08 L715.06,377.59 L715.29,376.10 L715.49,374.61 L715.69,373.11 L715.86,371.62 L716.01,370.13 L716.15,368.64 Z" fill="url(#g1)"/>
<path d="M641.25,440.23 L639.67,441.25 L638.08,442.25 L636.48,443.24 L634.86,444.22 L633.23,445.19 L631.59,446.15 L629.93,447.10 L628.27,448.04 L626.59,448.96 L624.90,449.88 L623.20,450.79 L621.49,451.68 L619.76,452.56 L618.03,453.43 L616.28,454.29 L614.53,455.14 L612.76,455.97 L610.98,456.80 L609.19,457.61 L607.39,458.41 L605.58,459.20 L603.77,459.98 L601.94,460.74 L600.10,461.49 L598.25,462.23 L596.39,462.96 L594.52,463.67 L592.65,464.37 L590.76,465.06 L588.87,465.74 L586.97,466.41 L585.06,467.06 L583.14,467.70 L581.21,468.32 L579.28,468.93 L577.33,469.53 L575.38,470.12 L573.43,470.70 L571.46,471.26 L569.49,471.80 L567.51,472.34 L565.52,472.86 L563.53,473.37 L561.53,473.86 L559.53,474.34 L557.52,474.81 L555.50,475.26 L553.47,475.70 L551.45,476.13 L549.41,476.54 L547.37,476.94 L545.33,477.32 L543.28,477.69 L541.23,478.05 L539.17,478.39 L537.10,478.72 L535.04,479.04 L532.97,479.34 L530.89,479.63 L528.81,479.90 L526.73,480.16 L524.65,480.40 L522.56,480.63 L520.47,480.85 L518.37,481.05 L516.28,481.24 L514.18,481.42 L512.08,481.58 L509.98,481.72 L507.87,481.85 L505.77,481.97 L503.66,482.07 L501.55,482.16 L499.44,482.24 L497.33,482.30 L495.22,482.34 L493.11,482.38 L490.99,482.39 L488.88,482.40 L486.77,482.38 L484.66,482.36 L482.55,482.32 L480.43,482.26 L480.57,527.40 L482.65,527.45 L484.73,527.49 L486.81,527.52 L488.89,527.53 L490.97,527.53 L493.05,527.51 L495.13,527.48 L497.21,527.43 L499.29,527.37 L501.37,527.30 L503.45,527.21 L505.53,527.11 L507.60,526.99 L509.68,526.86 L511.75,526.71 L513.82,526.55 L515.89,526.38 L517.95,526.19 L520.02,525.99 L522.08,525.77 L524.13,525.54 L526.19,525.30 L528.24,525.04 L530.29,524.77 L532.33,524.48 L534.37,524.18 L536.41,523.87 L538.44,523.54 L540.47,523.20 L542.50,522.84 L544.52,522.47 L546.53,522.09 L548.54,521.69 L550.54,521.28 L552.54,520.86 L554.54,520.42 L556.53,519.97 L558.51,519.50 L560.48,519.02 L562.45,518.53 L564.42,518.03 L566.37,517.51 L568.33,516.97 L570.27,516.43 L572.21,515.87 L574.14,515.30 L576.06,514.71 L577.97,514.12 L579.88,513.51 L581.78,512.88 L583.67,512.25 L585.55,511.60 L587.43,510.94 L589.29,510.26 L591.15,509.57 L593.00,508.87 L594.84,508.16 L596.67,507.44 L598.49,506.70 L600.30,505.95 L602.11,505.19 L603.90,504.42 L605.68,503.63 L607.46,502.83 L609.22,502.02 L610.97,501.20 L612.72,500.37 L614.45,499.53 L616.17,498.67 L617.88,497.80 L619.58,496.92 L621.27,496.03 L622.94,495.13 L624.61,494.22 L626.26,493.29 L627.90,492.36 L629.53,491.41 L631.15,490.46 L632.76,489.49 L634.35,488.51 L635.94,487.52 L637.51,486.53 L639.06,485.52 Z" fill="url(#g2)"/>
<path d="M480.43,482.26 L478.33,482.20 L476.24,482.11 L474.14,482.02 L472.04,481.91 L469.95,481.78 L467.85,481.64 L465.76,481.49 L463.67,481.32 L461.59,481.14 L459.50,480.95 L457.42,480.74 L455.34,480.51 L453.27,480.28 L451.19,480.03 L449.12,479.76 L447.06,479.48 L444.99,479.19 L442.94,478.88 L440.88,478.56 L438.83,478.23 L436.78,477.88 L434.74,477.52 L432.71,477.14 L430.67,476.75 L428.65,476.35 L426.63,475.93 L424.61,475.50 L422.60,475.06 L420.60,474.60 L418.60,474.13 L416.60,473.65 L414.62,473.15 L412.64,472.64 L410.66,472.12 L408.70,471.58 L406.74,471.03 L404.79,470.47 L402.84,469.89 L400.90,469.30 L398.97,468.70 L397.05,468.08 L395.14,467.46 L393.23,466.82 L391.33,466.16 L389.44,465.50 L387.56,464.82 L385.69,464.13 L383.83,463.43 L381.97,462.71 L380.13,461.98 L378.29,461.24 L376.46,460.49 L374.65,459.73 L372.84,458.95 L371.04,458.16 L369.26,457.36 L367.48,456.55 L365.71,455.73 L363.96,454.89 L362.21,454.05 L360.48,453.19 L358.76,452.32 L357.04,451.44 L355.34,450.54 L357.28,495.79 L358.96,496.68 L360.65,497.56 L362.35,498.43 L364.06,499.28 L365.78,500.12 L367.51,500.96 L369.25,501.78 L371.00,502.59 L372.76,503.38 L374.53,504.17 L376.31,504.94 L378.10,505.70 L379.90,506.45 L381.71,507.19 L383.53,507.92 L385.36,508.63 L387.20,509.33 L389.04,510.02 L390.90,510.69 L392.76,511.36 L394.63,512.01 L396.51,512.64 L398.39,513.27 L400.29,513.88 L402.19,514.48 L404.10,515.07 L406.02,515.64 L407.94,516.20 L409.87,516.75 L411.81,517.29 L413.76,517.81 L415.71,518.32 L417.67,518.81 L419.63,519.29 L421.60,519.76 L423.57,520.22 L425.56,520.66 L427.54,521.09 L429.53,521.50 L431.53,521.91 L433.53,522.29 L435.54,522.67 L437.55,523.03 L439.57,523.38 L441.59,523.71 L443.61,524.03 L445.64,524.33 L447.68,524.63 L449.71,524.90 L451.75,525.17 L453.79,525.42 L455.84,525.65 L457.89,525.88 L459.94,526.08 L461.99,526.28 L464.05,526.46 L466.11,526.63 L468.17,526.78 L470.23,526.92 L472.30,527.04 L474.36,527.15 L476.43,527.25 L478.50,527.33 L480.57,527.40 Z" fill="url(#g3)"/>
<path d="M355.34,450.54 L353.63,449.63 L351.93,448.70 L350.24,447.76 L348.56,446.81 L346.89,445.85 L345.24,444.88 L343.60,443.90 L341.97,442.90 L340.36,441.90 L338.75,440.88 L337.17,439.85 L335.59,438.82 L334.03,437.77 L332.48,436.71 L330.94,435.65 L329.42,434.57 L327.91,433.48 L326.42,432.39 L324.94,431.28 L323.47,430.16 L322.02,429.04 L320.58,427.90 L319.16,426.76 L317.75,425.60 L316.36,424.44 L314.98,423.27 L313.61,422.09 L312.26,420.90 L310.93,419.70 L309.61,418.49 L308.31,417.27 L307.02,416.05 L305.75,414.82 L304.49,413.58 L303.25,412.33 L302.03,411.07 L300.82,409.81 L299.62,408.54 L298.45,407.26 L297.28,405.97 L296.14,404.68 L295.01,403.38 L293.90,402.07 L292.80,400.75 L291.72,399.43 L290.66,398.10 L289.62,396.77 L288.59,395.43 L287.57,394.08 L286.58,392.72 L285.60,391.36 L284.64,389.99 L283.70,388.62 L282.77,387.24 L281.86,385.86 L280.97,384.47 L283.94,429.93 L284.82,431.32 L285.71,432.70 L286.63,434.07 L287.56,435.44 L288.51,436.80 L289.47,438.16 L290.46,439.51 L291.46,440.86 L292.47,442.19 L293.50,443.52 L294.55,444.85 L295.62,446.17 L296.70,447.48 L297.79,448.78 L298.91,450.08 L300.04,451.37 L301.18,452.65 L302.34,453.93 L303.52,455.19 L304.71,456.45 L305.92,457.71 L307.14,458.95 L308.38,460.19 L309.64,461.42 L310.91,462.64 L312.19,463.85 L313.50,465.05 L314.81,466.24 L316.14,467.43 L317.49,468.61 L318.85,469.78 L320.22,470.94 L321.61,472.09 L323.01,473.23 L324.43,474.36 L325.86,475.48 L327.31,476.59 L328.77,477.70 L330.24,478.79 L331.73,479.87 L333.23,480.95 L334.74,482.01 L336.27,483.06 L337.81,484.11 L339.36,485.14 L340.93,486.16 L342.51,487.17 L344.10,488.18 L345.71,489.17 L347.33,490.15 L348.96,491.11 L350.60,492.07 L352.25,493.02 L353.92,493.96 L355.60,494.88 L357.28,495.79 Z" fill="url(#g4)"/>
<path d="M280.97,384.47 L280.09,383.07 L279.23,381.67 L278.39,380.26 L277.57,378.85 L276.76,377.44 L275.97,376.01 L275.20,374.59 L274.45,373.16 L273.71,371.72 L273.00,370.28 L272.30,368.84 L271.61,367.39 L270.95,365.94 L270.30,364.48 L269.68,363.02 L269.07,361.56 L268.47,360.09 L267.90,358.62 L267.34,357.15 L266.81,355.67 L266.29,354.19 L265.79,352.71 L265.30,351.23 L264.84,349.74 L264.39,348.25 L263.96,346.76 L263.55,345.26 L263.16,343.77 L262.79,342.27 L262.43,340.77 L262.10,339.26 L261.78,337.76 L261.48,336.26 L261.19,334.75 L260.93,333.24 L260.69,331.73 L260.46,330.22 L260.25,328.71 L260.06,327.20 L259.89,325.69 L259.73,324.18 L259.60,322.67 L259.48,321.15 L262.71,366.79 L262.82,368.30 L262.96,369.81 L263.11,371.32 L263.28,372.83 L263.47,374.34 L263.68,375.84 L263.90,377.35 L264.14,378.85 L264.41,380.36 L264.69,381.86 L264.98,383.36 L265.30,384.86 L265.63,386.36 L265.98,387.85 L266.35,389.35 L266.74,390.84 L267.15,392.33 L267.57,393.82 L268.01,395.30 L268.47,396.79 L268.95,398.27 L269.44,399.75 L269.96,401.22 L270.49,402.69 L271.04,404.16 L271.60,405.63 L272.19,407.09 L272.79,408.55 L273.41,410.00 L274.05,411.46 L274.70,412.90 L275.38,414.35 L276.07,415.79 L276.78,417.22 L277.50,418.65 L278.25,420.08 L279.01,421.50 L279.78,422.92 L280.58,424.33 L281.39,425.74 L282.22,427.14 L283.07,428.54 L283.94,429.93 Z" fill="url(#g5)"/>
<line x1="719.37" y1="323.00" x2="716.15" y2="368.64" stroke="#fff" stroke-width="1.3"/>
<line x1="719.37" y1="323.00" x2="716.15" y2="368.64" stroke="#fff" stroke-width="1.3"/>
<line x1="641.25" y1="440.23" x2="639.06" y2="485.52" stroke="#fff" stroke-width="1.3"/>
<line x1="641.25" y1="440.23" x2="639.06" y2="485.52" stroke="#fff" stroke-width="1.3"/>
<line x1="480.43" y1="482.26" x2="480.57" y2="527.40" stroke="#fff" stroke-width="1.3"/>
<line x1="480.43" y1="482.26" x2="480.57" y2="527.40" stroke="#fff" stroke-width="1.3"/>
<line x1="355.34" y1="450.54" x2="357.28" y2="495.79" stroke="#fff" stroke-width="1.3"/>
<line x1="355.34" y1="450.54" x2="357.28" y2="495.79" stroke="#fff" stroke-width="1.3"/>
<line x1="280.97" y1="384.47" x2="283.94" y2="429.93" stroke="#fff" stroke-width="1.3"/>
<line x1="280.97" y1="384.47" x2="283.94" y2="429.93" stroke="#fff" stroke-width="1.3"/>
<path d="M489.50,304.80 L489.50,141.96 L491.43,141.96 L493.35,141.98 L495.28,142.01 L497.21,142.05 L499.13,142.10 L501.06,142.17 L502.98,142.25 L504.91,142.34 L506.83,142.44 L508.75,142.55 L510.67,142.68 L512.59,142.81 L514.51,142.96 L516.42,143.12 L518.34,143.29 L520.25,143.48 L522.16,143.67 L524.06,143.88 L525.97,144.10 L527.87,144.33 L529.77,144.58 L531.67,144.83 L533.56,145.10 L535.46,145.38 L537.35,145.67 L539.23,145.97 L541.11,146.28 L542.99,146.61 L544.87,146.95 L546.74,147.29 L548.61,147.65 L550.47,148.03 L552.33,148.41 L554.18,148.80 L556.03,149.21 L557.88,149.63 L559.72,150.06 L561.56,150.50 L563.39,150.95 L565.22,151.42 L567.04,151.89 L568.86,152.38 L570.67,152.87 L572.48,153.38 L574.28,153.90 L576.07,154.44 L577.86,154.98 L579.64,155.53 L581.42,156.10 L583.19,156.67 L584.95,157.26 L586.71,157.86 L588.46,158.47 L590.21,159.09 L591.95,159.72 L593.68,160.36 L595.40,161.01 L597.12,161.68 L598.83,162.35 L600.53,163.04 L602.22,163.73 L603.91,164.44 L605.59,165.15 L607.26,165.88 L608.92,166.62 L610.58,167.37 L612.22,168.13 L613.86,168.90 L615.49,169.68 L617.11,170.47 L618.72,171.27 L620.33,172.08 L621.92,172.90 L623.51,173.73 L625.08,174.57 L626.65,175.42 L628.21,176.28 L629.75,177.15 L631.29,178.03 L632.82,178.92 L634.34,179.82 L635.85,180.73 L637.35,181.65 L638.83,182.58 L640.31,183.51 L641.78,184.46 L643.24,185.42 L644.68,186.38 L646.12,187.36 L647.54,188.34 L648.96,189.34 L650.36,190.34 L651.75,191.35 L653.13,192.37 L654.50,193.40 L655.86,194.44 L657.20,195.49 L658.54,196.55 L659.86,197.61 L661.17,198.68 L662.47,199.77 L663.76,200.86 L665.03,201.95 L666.29,203.06 L667.54,204.18 L668.78,205.30 L670.00,206.43 L671.21,207.57 L672.41,208.72 L673.60,209.87 L674.77,211.03 L675.93,212.20 L677.08,213.38 L678.21,214.57 L679.33,215.76 L680.43,216.96 L681.53,218.17 L682.61,219.38 L683.67,220.61 L684.72,221.84 L685.76,223.07 L686.78,224.32 L687.79,225.56 L688.79,226.82 L689.77,228.09 L690.74,229.35 L691.69,230.63 L692.63,231.91 L693.55,233.20 L694.46,234.50 L695.35,235.80 L696.23,237.11 L697.10,238.42 L697.94,239.74 L698.78,241.07 L699.60,242.40 L700.40,243.73 L701.19,245.08 L701.96,246.42 L702.72,247.78 L703.46,249.13 L704.19,250.50 L704.90,251.87 L705.59,253.24 L706.27,254.62 L706.93,256.00 L707.58,257.39 L708.21,258.78 L708.83,260.18 L709.43,261.58 L710.01,262.98 L710.58,264.39 L711.13,265.80 L711.66,267.22 L712.18,268.64 L712.68,270.07 L713.17,271.50 L713.63,272.93 L714.09,274.37 L714.52,275.81 L714.94,277.25 L715.34,278.69 L715.72,280.14 L716.09,281.59 L716.44,283.05 L716.78,284.51 L717.09,285.97 L717.39,287.43 L717.67,288.89 L717.94,290.36 L718.19,291.83 L718.42,293.30 L718.63,294.77 L718.83,296.25 L719.01,297.73 L719.17,299.20 L719.31,300.68 L719.44,302.17 L719.55,303.65 L719.64,305.13 L719.72,306.62 L719.77,308.11 L719.81,309.59 L719.84,311.08 L719.84,312.57 L719.83,314.06 L719.79,315.55 L719.75,317.04 L719.68,318.53 L719.60,320.02 L719.49,321.51 L719.37,323.00 Z" fill="#D98B8B" stroke="#fff" stroke-width="2.3" stroke-linejoin="round"/>
<path d="M489.50,304.80 L719.37,323.00 L719.24,324.49 L719.08,325.99 L718.91,327.49 L718.71,328.98 L718.50,330.48 L718.28,331.97 L718.03,333.47 L717.77,334.96 L717.49,336.45 L717.19,337.94 L716.87,339.43 L716.53,340.91 L716.18,342.40 L715.81,343.88 L715.42,345.36 L715.01,346.84 L714.59,348.32 L714.15,349.79 L713.68,351.26 L713.21,352.73 L712.71,354.20 L712.20,355.66 L711.66,357.13 L711.11,358.58 L710.55,360.04 L709.96,361.49 L709.36,362.94 L708.74,364.38 L708.10,365.82 L707.44,367.26 L706.77,368.70 L706.08,370.13 L705.37,371.55 L704.65,372.97 L703.90,374.39 L703.14,375.80 L702.37,377.21 L701.57,378.61 L700.76,380.01 L699.93,381.41 L699.08,382.79 L698.22,384.18 L697.34,385.56 L696.44,386.93 L695.53,388.30 L694.59,389.66 L693.65,391.01 L692.68,392.36 L691.70,393.71 L690.70,395.04 L689.69,396.38 L688.66,397.70 L687.61,399.02 L686.54,400.33 L685.46,401.64 L684.37,402.94 L683.25,404.23 L682.13,405.51 L680.98,406.79 L679.82,408.06 L678.64,409.32 L677.45,410.58 L676.24,411.83 L675.02,413.07 L673.78,414.30 L672.53,415.52 L671.26,416.74 L669.98,417.95 L668.68,419.15 L667.36,420.34 L666.03,421.52 L664.69,422.69 L663.33,423.86 L661.96,425.02 L660.57,426.16 L659.16,427.30 L657.75,428.43 L656.32,429.55 L654.87,430.67 L653.41,431.77 L651.94,432.86 L650.45,433.94 L648.95,435.02 L647.44,436.08 L645.91,437.13 L644.37,438.18 L642.82,439.21 L641.25,440.23 Z" fill="#B7DBDB" stroke="#fff" stroke-width="2.3" stroke-linejoin="round"/>
<path d="M489.50,304.80 L641.25,440.23 L639.67,441.25 L638.08,442.25 L636.48,443.24 L634.86,444.22 L633.23,445.19 L631.59,446.15 L629.93,447.10 L628.27,448.04 L626.59,448.96 L624.90,449.88 L623.20,450.79 L621.49,451.68 L619.76,452.56 L618.03,453.43 L616.28,454.29 L614.53,455.14 L612.76,455.97 L610.98,456.80 L609.19,457.61 L607.39,458.41 L605.58,459.20 L603.77,459.98 L601.94,460.74 L600.10,461.49 L598.25,462.23 L596.39,462.96 L594.52,463.67 L592.65,464.37 L590.76,465.06 L588.87,465.74 L586.97,466.41 L585.06,467.06 L583.14,467.70 L581.21,468.32 L579.28,468.93 L577.33,469.53 L575.38,470.12 L573.43,470.70 L571.46,471.26 L569.49,471.80 L567.51,472.34 L565.52,472.86 L563.53,473.37 L561.53,473.86 L559.53,474.34 L557.52,474.81 L555.50,475.26 L553.47,475.70 L551.45,476.13 L549.41,476.54 L547.37,476.94 L545.33,477.32 L543.28,477.69 L541.23,478.05 L539.17,478.39 L537.10,478.72 L535.04,479.04 L532.97,479.34 L530.89,479.63 L528.81,479.90 L526.73,480.16 L524.65,480.40 L522.56,480.63 L520.47,480.85 L518.37,481.05 L516.28,481.24 L514.18,481.42 L512.08,481.58 L509.98,481.72 L507.87,481.85 L505.77,481.97 L503.66,482.07 L501.55,482.16 L499.44,482.24 L497.33,482.30 L495.22,482.34 L493.11,482.38 L490.99,482.39 L488.88,482.40 L486.77,482.38 L484.66,482.36 L482.55,482.32 L480.43,482.26 Z" fill="#E5AAAA" stroke="#fff" stroke-width="2.3" stroke-linejoin="round"/>
<path d="M489.50,304.80 L480.43,482.26 L478.33,482.20 L476.24,482.11 L474.14,482.02 L472.04,481.91 L469.95,481.78 L467.85,481.64 L465.76,481.49 L463.67,481.32 L461.59,481.14 L459.50,480.95 L457.42,480.74 L455.34,480.51 L453.27,480.28 L451.19,480.03 L449.12,479.76 L447.06,479.48 L444.99,479.19 L442.94,478.88 L440.88,478.56 L438.83,478.23 L436.78,477.88 L434.74,477.52 L432.71,477.14 L430.67,476.75 L428.65,476.35 L426.63,475.93 L424.61,475.50 L422.60,475.06 L420.60,474.60 L418.60,474.13 L416.60,473.65 L414.62,473.15 L412.64,472.64 L410.66,472.12 L408.70,471.58 L406.74,471.03 L404.79,470.47 L402.84,469.89 L400.90,469.30 L398.97,468.70 L397.05,468.08 L395.14,467.46 L393.23,466.82 L391.33,466.16 L389.44,465.50 L387.56,464.82 L385.69,464.13 L383.83,463.43 L381.97,462.71 L380.13,461.98 L378.29,461.24 L376.46,460.49 L374.65,459.73 L372.84,458.95 L371.04,458.16 L369.26,457.36 L367.48,456.55 L365.71,455.73 L363.96,454.89 L362.21,454.05 L360.48,453.19 L358.76,452.32 L357.04,451.44 L355.34,450.54 Z" fill="#F8D5C3" stroke="#fff" stroke-width="2.3" stroke-linejoin="round"/>
<path d="M489.50,304.80 L355.34,450.54 L353.63,449.63 L351.93,448.70 L350.24,447.76 L348.56,446.81 L346.89,445.85 L345.24,444.88 L343.60,443.90 L341.97,442.90 L340.36,441.90 L338.75,440.88 L337.17,439.85 L335.59,438.82 L334.03,437.77 L332.48,436.71 L330.94,435.65 L329.42,434.57 L327.91,433.48 L326.42,432.39 L324.94,431.28 L323.47,430.16 L322.02,429.04 L320.58,427.90 L319.16,426.76 L317.75,425.60 L316.36,424.44 L314.98,423.27 L313.61,422.09 L312.26,420.90 L310.93,419.70 L309.61,418.49 L308.31,417.27 L307.02,416.05 L305.75,414.82 L304.49,413.58 L303.25,412.33 L302.03,411.07 L300.82,409.81 L299.62,408.54 L298.45,407.26 L297.28,405.97 L296.14,404.68 L295.01,403.38 L293.90,402.07 L292.80,400.75 L291.72,399.43 L290.66,398.10 L289.62,396.77 L288.59,395.43 L287.57,394.08 L286.58,392.72 L285.60,391.36 L284.64,389.99 L283.70,388.62 L282.77,387.24 L281.86,385.86 L280.97,384.47 Z" fill="#5A80CD" stroke="#fff" stroke-width="2.3" stroke-linejoin="round"/>
<path d="M489.50,304.80 L280.97,384.47 L280.10,383.09 L279.25,381.71 L278.42,380.32 L277.61,378.93 L276.81,377.53 L276.03,376.13 L275.27,374.72 L274.53,373.31 L273.80,371.89 L273.09,370.47 L272.40,369.05 L271.72,367.62 L271.06,366.19 L270.42,364.75 L269.80,363.32 L269.20,361.87 L268.61,360.43 L268.04,358.98 L267.48,357.52 L266.95,356.07 L266.43,354.61 L265.93,353.15 L265.45,351.68 L264.99,350.22 L264.54,348.75 L264.11,347.28 L263.70,345.80 L263.31,344.33 L262.93,342.85 L262.57,341.37 L262.23,339.89 L261.91,338.41 L261.61,336.92 L261.32,335.44 L261.05,333.95 L260.80,332.46 L260.57,330.98 L260.35,329.49 L260.16,327.99 L259.98,326.50 L259.82,325.01 L259.67,323.52 L259.55,322.03 L259.44,320.53 L259.35,319.04 L259.27,317.55 L259.22,316.06 L259.18,314.56 L259.16,313.07 L259.16,311.58 L259.18,310.09 L259.21,308.60 L259.26,307.11 L259.33,305.62 L259.42,304.13 L259.52,302.65 L259.64,301.16 L259.78,299.68 L259.94,298.20 L260.11,296.72 L260.30,295.24 L260.51,293.76 L260.74,292.29 L260.98,290.81 L261.24,289.34 L261.52,287.88 L261.81,286.41 L262.13,284.95 L262.46,283.49 L262.80,282.03 L263.16,280.57 L263.54,279.12 L263.94,277.67 L264.36,276.23 L264.79,274.78 L265.23,273.34 L265.70,271.91 L266.18,270.48 L266.68,269.05 L267.19,267.62 L267.72,266.20 L268.27,264.78 L268.83,263.37 L269.41,261.96 L270.01,260.56 L270.62,259.16 L271.25,257.76 L271.89,256.37 L272.55,254.98 L273.23,253.60 L273.92,252.22 L274.63,250.85 L275.35,249.48 L276.09,248.12 L276.85,246.77 L277.62,245.41 L278.40,244.07 L279.20,242.73 L280.02,241.39 L280.85,240.06 L281.70,238.74 L282.56,237.42 L283.44,236.11 L284.33,234.81 L285.23,233.51 L286.16,232.21 L287.09,230.93 L288.04,229.65 L289.01,228.37 L289.99,227.11 L290.98,225.85 L291.99,224.59 L293.01,223.35 L294.05,222.11 L295.10,220.87 L296.16,219.65 L297.24,218.43 L298.33,217.22 L299.44,216.01 L300.56,214.82 L301.69,213.63 L302.84,212.44 L303.99,211.27 L305.17,210.10 L306.35,208.95 L307.55,207.79 L308.76,206.65 L309.99,205.52 L311.22,204.39 L312.47,203.27 L313.73,202.16 L315.01,201.06 L316.29,199.97 L317.59,198.88 L318.90,197.80 L320.22,196.74 L321.56,195.68 L322.90,194.63 L324.26,193.58 L325.63,192.55 L327.01,191.53 L328.41,190.51 L329.81,189.50 L331.22,188.51 L332.65,187.52 L334.09,186.54 L335.53,185.57 L336.99,184.61 L338.46,183.66 L339.94,182.72 L341.43,181.79 L342.93,180.87 L344.44,179.95 L345.96,179.05 L347.49,178.16 L349.03,177.27 L350.58,176.40 L352.13,175.54 L353.70,174.68 L355.28,173.84 L356.87,173.01 L358.46,172.18 L360.07,171.37 L361.68,170.57 L363.31,169.77 L364.94,168.99 L366.58,168.22 L368.23,167.46 L369.88,166.71 L371.55,165.97 L373.22,165.24 L374.90,164.52 L376.59,163.81 L378.29,163.11 L379.99,162.42 L381.70,161.75 L383.42,161.08 L385.15,160.43 L386.88,159.78 L388.62,159.15 L390.37,158.53 L392.12,157.91 L393.88,157.31 L395.65,156.73 L397.42,156.15 L399.20,155.58 L400.99,155.02 L402.78,154.48 L404.58,153.95 L406.38,153.42 L408.19,152.91 L410.00,152.41 L411.82,151.93 L413.65,151.45 L415.48,150.98 L417.31,150.53 L419.15,150.09 L421.00,149.66 L422.85,149.24 L424.70,148.83 L426.56,148.43 L428.42,148.05 L430.29,147.68 L432.16,147.31 L434.03,146.96 L435.91,146.63 L437.79,146.30 L439.68,145.98 L441.57,145.68 L443.46,145.39 L445.36,145.11 L447.25,144.84 L449.15,144.59 L451.06,144.34 L452.96,144.11 L454.87,143.89 L456.78,143.68 L458.70,143.48 L460.61,143.30 L462.53,143.13 L464.45,142.97 L466.37,142.82 L468.29,142.68 L470.21,142.55 L472.14,142.44 L474.07,142.34 L475.99,142.25 L477.92,142.17 L479.85,142.10 L481.78,142.05 L483.71,142.01 L485.64,141.98 L487.57,141.96 L489.50,141.96 Z" fill="#8CB862" stroke="#fff" stroke-width="2.3" stroke-linejoin="round"/>
</svg>
<div class="t num" style="left:237.3px;top:29.6px;font-size:38px;transform:scaleX(1.02);transform-origin:0 0;">2022</div>
<div class="t cj" style="left:314px;top:33.6px;font-size:35px;letter-spacing:0.514px;transform:scaleX(1.07);transform-origin:0 0;">年受理审查起诉未成年人犯罪</div>
<div class="t cj" style="left:324px;top:77.5px;font-size:35px;letter-spacing:0.514px;transform:scaleX(1.07);transform-origin:0 0;">主要罪名分布情况</div>
<div class="l1" style="left:707.5px;top:136px;">盗窃罪</div>
<div class="l2" style="left:706.7px;top:172.2px;">26.7%</div>
<div class="l1" style="left:240px;top:163px;">其他</div>
<div class="l2" style="left:240.2px;top:198.2px;">32.6%</div>
<div class="l1" style="left:804.4px;top:408px;">聚众斗殴罪</div>
<div class="l2" style="left:805.1px;top:443.2px;">12.3%</div>
<div class="l1" style="left:222.2px;top:470px;">寻衅滋事罪</div>
<div class="l2" style="left:222.2px;top:506.2px;">7.9%</div>
<div class="l1" style="left:347px;top:516px;">抢劫罪</div>
<div class="l2" style="left:347.4px;top:552.2px;">8.9%</div>
<div class="l1" style="left:636.5px;top:517px;">强奸罪</div>
<div class="l2" style="left:637.3px;top:552.2px;">11.6%</div>
</body></html>
